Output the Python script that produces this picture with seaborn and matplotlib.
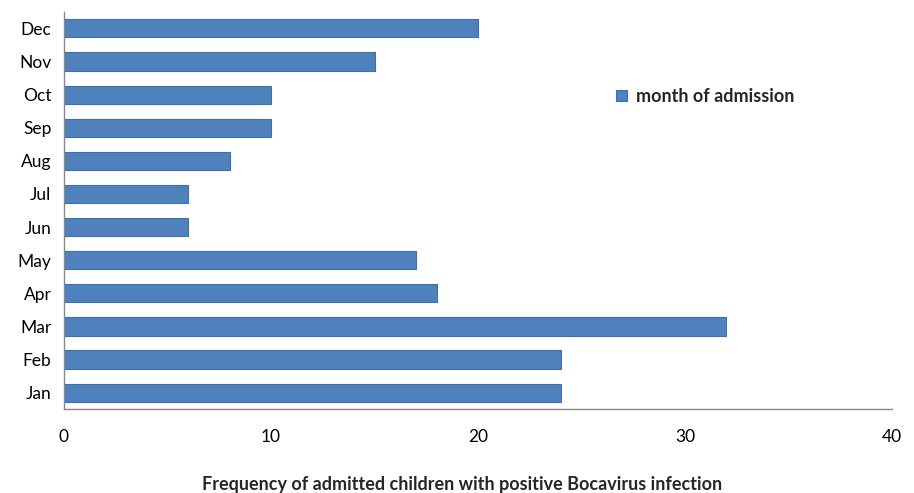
import matplotlib
matplotlib.use("Agg")
import matplotlib.pyplot as plt
import seaborn as sns
import pandas as pd

months = ["Dec", "Nov", "Oct", "Sep", "Aug", "Jul", "Jun", "May", "Apr", "Mar", "Feb", "Jan"]
counts = [20, 15, 10, 10, 8, 6, 6, 17, 18, 32, 24, 24]
series_name = "month of admission"
xlabel = "Frequency of admitted children with positive Bocavirus infection"

df = pd.DataFrame({"month": months, "count": counts, "series": series_name})

sns.set_theme(style="white")
plt.rcParams["font.family"] = ["Lato", "DejaVu Sans"]

fig = plt.figure(figsize=(9.14, 4.93), dpi=100)
ax = fig.add_axes([0.070, 0.170, 0.906, 0.806])

sns.barplot(data=df, y="month", x="count", hue="series", order=months,
            orient="h", palette=["#4F81BD"], saturation=1, width=0.55,
            edgecolor="#3F70AE", linewidth=0.8, ax=ax)

ax.set_xlim(0, 40)
ax.set_xticks([0, 10, 20, 30, 40])
ax.set_xlabel(xlabel, fontsize=13, fontweight="bold")
ax.xaxis.label.set_va("center")
ax.xaxis.set_label_coords(0.481, -0.189)
ax.set_ylabel("")
ax.tick_params(axis="both", length=0, labelsize=12.5, colors="#000000")
ax.tick_params(axis="x", pad=14)
ax.tick_params(axis="y", pad=9)

for s in ["top", "right"]:
    ax.spines[s].set_visible(False)
for s in ["left", "bottom"]:
    ax.spines[s].set_color("#898989")
    ax.spines[s].set_linewidth(1.0)

leg = ax.legend(loc="upper left", bbox_to_anchor=(0.647, 0.85), frameon=False,
                prop={"weight": "bold", "size": 13}, handlelength=0.6,
                handleheight=0.6, handletextpad=0.5)

fig.savefig("out.png", dpi=100)
